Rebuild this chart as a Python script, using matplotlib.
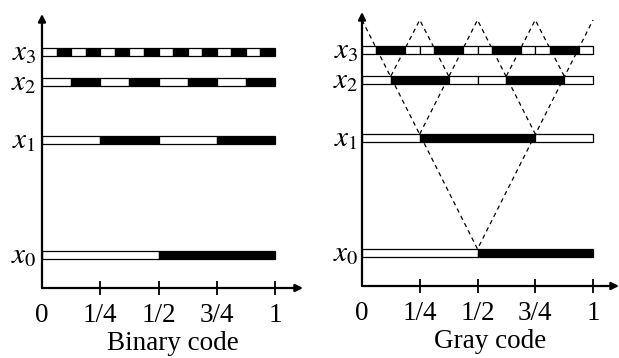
import matplotlib
matplotlib.use("Agg")
import matplotlib.pyplot as plt
from matplotlib.transforms import blended_transform_factory

plt.rcParams['font.family'] = ['Liberation Serif', 'DejaVu Serif']
plt.rcParams['mathtext.fontset'] = 'stix'

# ---- data ----
tick_values = [0, 0.25, 0.5, 0.75, 1]
tick_labels = ['0', '1/4', '1/2', '3/4', '1']
level_names = ['$x_0$', '$x_1$', '$x_2$', '$x_3$']
level_y = [33, 148, 206, 236]          # vertical position of each code strip
fold_top = 266                          # top of the dashed folding lines

binary_bits = [
    [0, 1],
    [0, 1, 0, 1],
    [0, 1, 0, 1, 0, 1, 0, 1],
    [0, 1, 0, 1, 0, 1, 0, 1, 0, 1, 0, 1, 0, 1, 0, 1],
]
gray_bits = [
    [0, 1],
    [0, 1, 1, 0],
    [0, 1, 1, 0, 0, 1, 1, 0],
    [0, 1, 1, 0, 0, 1, 1, 0, 0, 1, 1, 0, 0, 1, 1, 0],
]
# dashed folding lines: x of each vertex, and which level it touches ('top' = top)
fold_paths_x = [
    [0, 0.5, 1],
    [0.25, 0.5, 0.75],
    [0.125, 0.25, 0.375],
    [0.625, 0.75, 0.875],
]
fold_paths_lv = [
    ['top', 0, 'top'],
    [1, 'top', 1],
    [2, 'top', 2],
    [2, 'top', 2],
]

BAR_H = 8

fig = plt.figure(figsize=(6.19, 3.58), dpi=100)
W, H = 619, 358


def make_axes(x0px, x1px, xmaxpx, ybotpx, ytoppx):
    left = x0px / W
    width = (xmaxpx - x0px) / W
    bottom = (H - ybotpx) / H
    height = (ybotpx - ytoppx) / H
    ax = fig.add_axes([left, bottom, width, height])
    unit = x1px - x0px
    ax.set_xlim(0, (xmaxpx - x0px) / unit)
    ax.set_ylim(0, ybotpx - ytoppx)
    return ax


def style_axes(ax, xlabel, lab_off):
    for s in ax.spines.values():
        s.set_visible(False)
    xmax = ax.get_xlim()[1]
    ymax = ax.get_ylim()[1]
    ap = dict(arrowstyle='-|>', lw=1.6, color='black', mutation_scale=11,
              shrinkA=0, shrinkB=0)
    ax.annotate('', xy=(xmax, 0), xytext=(0, 0), arrowprops=ap,
                annotation_clip=False)
    ax.annotate('', xy=(0, ymax), xytext=(0, 0), arrowprops=ap,
                annotation_clip=False)
    ax.set_xticks(tick_values)
    ax.set_xticklabels(tick_labels, fontsize=19.5)
    ax.tick_params(axis='x', direction='inout', length=10, width=1.3, pad=6)
    ax.xaxis.get_major_ticks()[0].tick1line.set_visible(False)
    ax.set_yticks([])
    ax.set_xlabel(xlabel, fontsize=19.5, labelpad=2)
    tr = blended_transform_factory(ax.transAxes, ax.transData)
    for name, y in zip(level_names, level_y):
        ax.text(lab_off, y - 8, name, transform=tr, ha='right', va='baseline',
                fontsize=21)


def draw_strips(ax, bits_list):
    for bits, y in zip(bits_list, level_y):
        w = 1.0 / len(bits)
        for i, b in enumerate(bits):
            ax.barh(y, w, left=i * w, height=BAR_H,
                    color='black' if b else 'white',
                    edgecolor='black', linewidth=0.9, zorder=3)


# left panel: binary code
axL = make_axes(42, 275, 303, 288, 14)
draw_strips(axL, binary_bits)
style_axes(axL, 'Binary code', -0.022)

# right panel: Gray code
axR = make_axes(362, 593, 619, 286, 12)
draw_strips(axR, gray_bits)
for xs, lvs in zip(fold_paths_x, fold_paths_lv):
    ys = [fold_top if lv == 'top' else level_y[lv] + BAR_H / 2 for lv in lvs]
    axR.plot(xs, ys, color='black', lw=0.9, linestyle=(0, (3.5, 3)), zorder=2)
style_axes(axR, 'Gray code', -0.015)

fig.savefig('out.png', dpi=100)
